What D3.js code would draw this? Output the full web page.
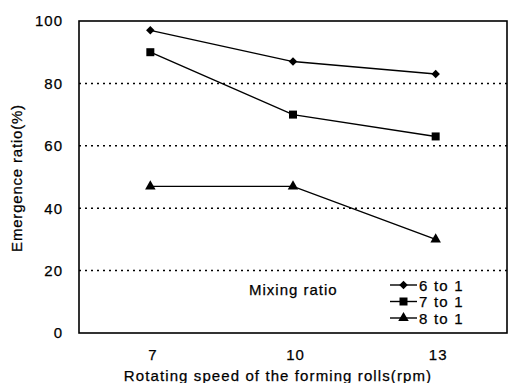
<!DOCTYPE html>
<html><head><meta charset="utf-8">
<script src="https://cdn.jsdelivr.net/npm/d3@7"></script>
<style>
html,body{margin:0;padding:0;background:#fff;}
svg text{font-family:Arial,"Liberation Sans",sans-serif;fill:#000;stroke:#000;stroke-width:0.25px;}
</style></head>
<body>
<svg id="c" width="508" height="383"></svg>
<script>
const categories = ["7","10","13"];
const seriesNames = ["6 to 1","7 to 1","8 to 1"];
const series6to1 = [97, 87, 83];
const series7to1 = [90, 70, 63];
const series8to1 = [47, 47, 30];
const yTicks = [0, 20, 40, 60, 80, 100];
const gridTicks = [20, 40, 60, 80];
const xTitle = "Rotating speed of the forming rolls(rpm)";
const yTitle = "Emergence ratio(%)";
const legendTitle = "Mixing ratio";

const data = [
  {name: seriesNames[0], values: series6to1, symbol: d3.symbolSquare, size: 36, rot: 45},
  {name: seriesNames[1], values: series7to1, symbol: d3.symbolSquare, size: 64, rot: 0},
  {name: seriesNames[2], values: series8to1, symbol: d3.symbolTriangle, size: 48, rot: 0}
];

const svg = d3.select("#c");
const L = 79, T = 21, R = 507, B = 333;
const x = d3.scalePoint().domain(categories).range([L, R]).padding(0.5);
const y = d3.scaleLinear().domain([0, 100]).range([B, T]);

// grid
svg.append("g").selectAll("line").data(gridTicks).join("line")
  .attr("x1", L).attr("x2", R)
  .attr("y1", d => y(d)).attr("y2", d => y(d))
  .attr("stroke", "#000").attr("stroke-width", 1.5)
  .attr("stroke-dasharray", "2,4");

// frame
svg.append("rect").attr("x", L).attr("y", T).attr("width", R - L).attr("height", B - T)
  .attr("fill", "none").attr("stroke", "#000").attr("stroke-width", 1.6);

// y axis labels
const yAxis = d3.axisLeft(y).tickValues(yTicks).tickSize(0).tickPadding(16);
const gy = svg.append("g").attr("transform", `translate(${L},0)`).call(yAxis);
gy.select(".domain").remove();
gy.selectAll("text").attr("font-size", 15).attr("letter-spacing", "1px")
  .attr("font-family", "Arial, 'Liberation Sans', sans-serif").attr("fill", "#000");

// x axis labels
const xAxis = d3.axisBottom(x).tickSize(0).tickPadding(16);
const gx = svg.append("g").attr("transform", `translate(0,${B})`).call(xAxis);
gx.select(".domain").remove();
gx.selectAll("text").attr("font-size", 15).attr("letter-spacing", "1px")
  .attr("font-family", "Arial, 'Liberation Sans', sans-serif").attr("fill", "#000")
  .attr("dx", "2px");

// titles
svg.append("text").attr("x", 278).attr("y", 381).attr("text-anchor", "middle")
  .attr("font-size", 15).attr("letter-spacing", "1.1px").text(xTitle);
svg.append("text").attr("transform", "translate(22,178) rotate(-90)")
  .attr("text-anchor", "middle").attr("font-size", 15).attr("letter-spacing", "0.8px").text(yTitle);

// lines & markers
const line = d3.line().x((d, i) => x(categories[i])).y(d => y(d));
const gs = svg.append("g").selectAll("g").data(data).join("g");
gs.append("path").attr("d", d => line(d.values)).attr("fill", "none")
  .attr("stroke", "#000").attr("stroke-width", 1.4);
gs.each(function(s) {
  d3.select(this).selectAll("path.m").data(s.values).join("path").attr("class", "m")
    .attr("d", d3.symbol().type(s.symbol).size(s.size))
    .attr("transform", (d, i) => `translate(${x(categories[i])},${y(d)}) rotate(${s.rot})`)
    .attr("fill", "#000");
});

// legend
svg.append("text").attr("x", 249).attr("y", 295).attr("font-size", 15)
  .attr("letter-spacing", "1px").text(legendTitle);
const lg = svg.append("g").selectAll("g").data(data).join("g")
  .attr("transform", (d, i) => `translate(390,${285 + i * 16.5})`);
lg.append("line").attr("x1", 0).attr("x2", 27).attr("stroke", "#000").attr("stroke-width", 1.4);
lg.append("path").attr("d", d => d3.symbol().type(d.symbol).size(d.size)())
  .attr("transform", d => `translate(13.5,0) rotate(${d.rot})`).attr("fill", "#000");
lg.append("text").attr("x", 29).attr("y", 5.5).attr("font-size", 15)
  .attr("letter-spacing", "1.2px").text(d => d.name);
</script>
</body></html>
